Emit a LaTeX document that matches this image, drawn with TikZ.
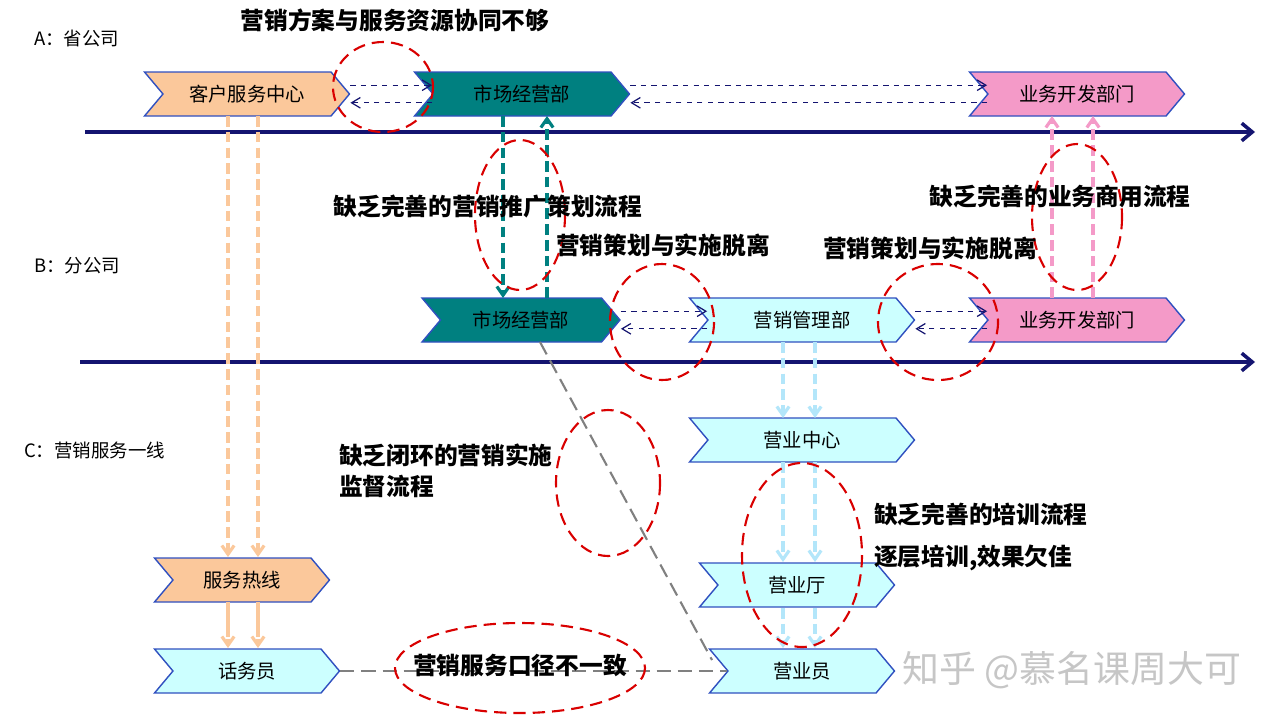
\documentclass[tikz,border=0pt]{standalone}
\usepackage{fontspec}
\setmainfont{Noto Sans CJK SC}
\usetikzlibrary{shapes.symbols,arrows.meta}
\definecolor{bord}{HTML}{3050C0}
\definecolor{orng}{HTML}{FBC89B}
\definecolor{teal2}{HTML}{008080}
\definecolor{pnk}{HTML}{F49AC8}
\definecolor{cyn}{HTML}{CCFFFF}
\definecolor{navy}{HTML}{141470}
\tikzset{
 chev/.style={shape=signal,signal from=west,signal to=east,signal pointer angle=100,draw=bord,line width=0.8pt,minimum height=0.88cm,font=\fontsize{11}{11}\selectfont,inner sep=0pt},
 axis/.style={navy,line width=2pt,-{Straight Barb[length=6pt,width=10pt]}},
 hdash/.style={navy,dashed,line width=0.7pt,-{Straight Barb[length=5pt,width=6pt]}},
 rell/.style={red!85!black,dashed,line width=1.2pt,dash pattern=on 7pt off 4pt},
 lbl/.style={font=\bfseries\fontsize{13.5}{15}\selectfont},
 side/.style={font=\fontsize{10.5}{10.5}\selectfont},
 vdash/.style={dashed,line width=1.8pt,dash pattern=on 6pt off 3pt,-{Straight Barb[length=5pt,width=7pt]}},
 gdash/.style={gray,dashed,line width=1.2pt,dash pattern=on 8pt off 4pt}
}
\begin{document}
\begin{tikzpicture}[x=0.02cm,y=-0.02cm]
\useasboundingbox[fill=white] (0,0) rectangle (1280,724);
% axes
\coordinate (a1) at (85,132); \coordinate (a2) at (1255,132);
\coordinate (b1) at (80,362); \coordinate (b2) at (1255,362);
\draw[axis] (a1)--(a2);
\draw[axis] (b1)--(b2);
% labels
\node[side,anchor=west] (la) at (28,38) {A：省公司};
\node[side,anchor=west] (lb) at (28,266) {B：分公司};
\node[side,anchor=west] (lc) at (18,450) {C：营销服务一线};
% nodes
\node[chev,fill=orng,minimum width=4.1cm] (kf) at (247,94) {客户服务中心};
\node[chev,fill=teal2,minimum width=4.3cm] (sa) at (522,94) {市场经营部};
\node[chev,fill=pnk,minimum width=4.3cm] (ya) at (1077,94) {业务开发部门};
\node[chev,fill=teal2,minimum width=3.96cm] (sb) at (521,320) {市场经营部};
\node[chev,fill=cyn,minimum width=4.5cm] (yx) at (802,320) {营销管理部};
\node[chev,fill=pnk,minimum width=4.3cm] (yb) at (1077,320) {业务开发部门};
\node[chev,fill=cyn,minimum width=4.5cm] (zx) at (802,440) {营业中心};
\node[chev,fill=cyn,minimum width=3.9cm] (yt) at (797,585) {营业厅};
\node[chev,fill=cyn,minimum width=3.7cm] (yy) at (802,671) {营业员};
\node[chev,fill=orng,minimum width=3.5cm] (rx) at (242,580) {服务热线};
\node[chev,fill=cyn,minimum width=3.7cm] (hw) at (247,671) {话务员};
% horizontal dashed
\draw[hdash] ([yshift=5pt]kf.east)--([yshift=5pt]sa.west);
\draw[hdash] ([yshift=-5pt]sa.west)--([yshift=-5pt]kf.east);
\draw[hdash] ([yshift=5pt]sa.east)--([yshift=5pt]ya.west);
\draw[hdash] ([yshift=-5pt]ya.west)--([yshift=-5pt]sa.east);
\draw[hdash] ([yshift=5pt]sb.east)--([yshift=5pt]yx.west);
\draw[hdash] ([yshift=-5pt]yx.west)--([yshift=-5pt]sb.east);
\draw[hdash] ([yshift=5pt]yx.east)--([yshift=5pt]yb.west);
\draw[hdash] ([yshift=-5pt]yb.west)--([yshift=-5pt]yx.east);
% vertical
\draw[vdash,teal2] (503,116)--(503,298);
\draw[vdash,teal2] (547,298)--(547,116);
\draw[vdash,pnk] (1052,298)--(1052,116);
\draw[vdash,pnk] (1093,298)--(1093,116);
\draw[vdash,orng] (228,116)--(228,557);
\draw[vdash,orng] (258,116)--(258,557);
\draw[vdash,orng,dash pattern=on 20pt off 1pt] (228,602)--(228,648);
\draw[vdash,orng,dash pattern=on 20pt off 1pt] (258,602)--(258,648);
\draw[vdash,cyan!30] (783,342)--(783,418);
\draw[vdash,cyan!30] (815,342)--(815,418);
\draw[vdash,cyan!30] (783,462)--(783,562);
\draw[vdash,cyan!30] (815,462)--(815,562);
\draw[vdash,cyan!30] (783,608)--(783,648);
\draw[vdash,cyan!30] (815,608)--(815,648);
% gray
\draw[gdash] (540,342)--(712,660);
\draw[gdash] (hw.east)--(yy.west);
% ellipses
\draw[rell] (383,87) ellipse [x radius=50,y radius=45];
\draw[rell] (520,215) ellipse [x radius=45,y radius=75];
\draw[rell] (1077,217) ellipse [x radius=45,y radius=73];
\draw[rell] (662,322) ellipse [x radius=52,y radius=58];
\draw[rell] (938,322) ellipse [x radius=60,y radius=58];
\draw[rell] (608,483) ellipse [x radius=52,y radius=73];
\draw[rell] (802,555) ellipse [x radius=60,y radius=92];
\draw[rell] (520,668) ellipse [x radius=125,y radius=45];
% text labels
\node[lbl] (t1) at (395,20) {营销方案与服务资源协同不够};
\node[lbl] (t2) at (488,207) {缺乏完善的营销推广策划流程};
\node[lbl] (t3) at (663,245) {营销策划与实施脱离};
\node[lbl] (t4) at (930,248) {营销策划与实施脱离};
\node[lbl] (t5) at (1060,197) {缺乏完善的业务商用流程};
\node[lbl,anchor=west] (t6) at (333,455) {缺乏闭环的营销实施};
\node[lbl,anchor=west] (t7) at (333,486) {监督流程};
\node[lbl,anchor=west] (t8) at (868,515) {缺乏完善的培训流程};
\node[lbl,anchor=west] (t9) at (868,558) {逐层培训,效果欠佳};
\node[lbl] (t10) at (520,665) {营销服务口径不一致};
\node[font=\fontsize{21}{21}\selectfont,text=gray!45] (wm) at (1072,670) {知乎 @慕名课周大可};
\end{tikzpicture}
\end{document}
